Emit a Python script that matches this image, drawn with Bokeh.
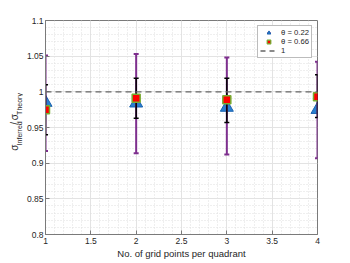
import math
from bokeh.plotting import figure
from bokeh.layouts import row
from bokeh.models import (Range1d, FixedTicker, Span, Legend, LegendItem, ColumnDataSource)
from bokeh.core.properties import value
from bokeh.embed import file_html
from bokeh.resources import INLINE

# ---------------- data ----------------
grid_points = [1, 2, 3, 4]
theta022_mean = [0.985, 0.984, 0.978, 0.975]
theta022_lower = [0.917, 0.914, 0.912, 0.907]
theta022_upper = [1.051, 1.053, 1.048, 1.042]
theta066_mean = [0.975, 0.991, 0.989, 0.993]
theta066_lower = [0.940, 0.963, 0.957, 0.964]
theta066_upper = [1.010, 1.019, 1.019, 1.024]
reference_level = 1.0

x_ticks = [1, 1.5, 2, 2.5, 3, 3.5, 4]
x_tick_labels = ["1", "1.5", "2", "2.5", "3", "3.5", "4"]
y_ticks = [0.8, 0.85, 0.9, 0.95, 1.0, 1.05, 1.1]
y_tick_labels = ["0.8", "0.85", "0.9", "0.95", "1", "1.05", "1.1"]
x_minor = [round(1 + 0.1 * i, 2) for i in range(31)]
y_minor = [round(0.8 + 0.01 * i, 2) for i in range(31)]

legend_labels = ["\u03b8 = 0.22", "\u03b8 = 0.66", "1"]
x_title = "No. of grid points per quadrant"
y_title_main = ["\u03c3", "/", "\u03c3"]
y_title_sub = ["Inferred", "Theory"]

FONT = "Liberation Sans"
TXT = "#262626"
AX = "#7a7a7a"
PURPLE = "#7E2F8E"
BLUE = "#2a80d0"
GREEN = "#77AC30"

# ---------------- y-axis title panel ----------------
YW, H = 23, 263
yfig = figure(width=YW, height=H, output_backend="svg", toolbar_location=None,
              x_range=Range1d(0, YW), y_range=Range1d(0, H),
              x_axis_type=None, y_axis_type=None, min_border=0)
yfig.grid.visible = False
yfig.outline_line_color = None
yfig.background_fill_color = "white"
yfig.border_fill_color = "white"
# pixel positions of the pieces (title panel pixels, y measured upward)
yfig.text(x=[13.5, 13.5, 13.5], y=[103, 135, 140.5], text=y_title_main, angle=math.pi / 2,
          text_font=value(FONT), text_font_size="10px", text_color=TXT,
          text_align="left", text_baseline="alphabetic")
yfig.text(x=[18.5, 18.5], y=[109.5, 147], text=y_title_sub, angle=math.pi / 2,
          text_font=value(FONT), text_font_size="7px", text_color=TXT,
          text_align="left", text_baseline="alphabetic")

# ---------------- main plot ----------------
p = figure(width=350 - YW, height=H, output_backend="svg", toolbar_location=None,
           x_range=Range1d(1, 4), y_range=Range1d(0.8, 1.1),
           min_border_left=45 - YW, min_border_right=33, min_border_top=20,
           min_border_bottom=29)
p.background_fill_color = "white"
p.border_fill_color = "white"
p.outline_line_color = AX
p.outline_line_width = 1

for ax, ticks, labels, minor in ((p.xaxis[0], x_ticks, x_tick_labels, x_minor),
                                 (p.yaxis[0], y_ticks, y_tick_labels, y_minor)):
    ax.ticker = FixedTicker(ticks=ticks, minor_ticks=minor)
    ax.major_label_overrides = {t: l for t, l in zip(ticks, labels)}
    ax.major_label_text_font = FONT
    ax.major_label_text_font_size = "8.5px"
    ax.major_label_text_color = TXT
    ax.major_tick_in = 4
    ax.major_tick_out = 0
    ax.minor_tick_in = 0
    ax.minor_tick_out = 0
    ax.major_tick_line_color = AX
    ax.axis_line_color = AX
p.xaxis.major_label_standoff = 3
p.yaxis.major_label_standoff = 2

p.xaxis.axis_label = x_title
p.xaxis.axis_label_text_font = FONT
p.xaxis.axis_label_text_font_size = "9.5px"
p.xaxis.axis_label_text_font_style = "normal"
p.xaxis.axis_label_text_color = TXT
p.xaxis.axis_label_standoff = 1

# grids
for g, ticks, minor in ((p.xgrid[0], x_ticks, x_minor), (p.ygrid[0], y_ticks, y_minor)):
    g.ticker = FixedTicker(ticks=ticks, minor_ticks=minor)
    g.grid_line_color = "#e3e3e3"
    g.grid_line_width = 1
    g.minor_grid_line_color = "#dedede"
    g.minor_grid_line_dash = "1 2"
    g.minor_grid_line_width = 1

# reference line
p.add_layout(Span(location=reference_level, dimension="width", line_color="#666666",
                  line_width=1.3, line_dash="6 4"))

src022 = ColumnDataSource(dict(x=grid_points, y=theta022_mean,
                               lo=theta022_lower, hi=theta022_upper))
src066 = ColumnDataSource(dict(x=grid_points, y=theta066_mean,
                               lo=theta066_lower, hi=theta066_upper))

# theta = 0.22 : triangles + purple error bars
p.scatter("x", "y", source=src022, marker="triangle", size=13,
          fill_color=BLUE, line_color="#1a62b0", line_width=1)
p.segment("x", "lo", "x", "hi", source=src022, line_color=PURPLE, line_width=2)
p.scatter("x", "lo", source=src022, marker="dash", size=5, line_color=PURPLE, line_width=2)
p.scatter("x", "hi", source=src022, marker="dash", size=5, line_color=PURPLE, line_width=2)

# theta = 0.66 : squares + black error bars
p.segment("x", "lo", "x", "hi", source=src066, line_color="black", line_width=1.5)
p.scatter("x", "lo", source=src066, marker="dash", size=5, line_color="black", line_width=1.5)
p.scatter("x", "hi", source=src066, marker="dash", size=5, line_color="black", line_width=1.5)
p.scatter("x", "y", source=src066, marker="square", size=8,
          fill_color="red", line_color=GREEN, line_width=1.5)

# legend-only renderers (placed outside the visible range)
dummy = ColumnDataSource(dict(x=[-10], y=[-10]))
l1a = p.scatter("x", "y", source=dummy, marker="dash", angle=math.pi / 2, size=9,
                line_color=PURPLE, line_width=1.5)
l1b = p.scatter("x", "y", source=dummy, marker="triangle", size=7,
                fill_color=BLUE, line_color="#1a62b0", line_width=1)
l2a = p.scatter("x", "y", source=dummy, marker="dash", angle=math.pi / 2, size=9,
                line_color="black", line_width=1.5)
l2b = p.scatter("x", "y", source=dummy, marker="square", size=5,
                fill_color="red", line_color=GREEN, line_width=1.2)
dummy_line = ColumnDataSource(dict(x=[-10, -9], y=[-10, -10]))
l3 = p.line("x", "y", source=dummy_line, line_color="#666666", line_width=1.3,
            line_dash="5 4")

legend = Legend(items=[LegendItem(label=legend_labels[0], renderers=[l1a, l1b]),
                       LegendItem(label=legend_labels[1], renderers=[l2a, l2b]),
                       LegendItem(label=legend_labels[2], renderers=[l3])],
                location="top_right")
legend.margin = 5
legend.padding = 2
legend.spacing = 0
legend.glyph_width = 17
legend.glyph_height = 9
legend.label_height = 9
legend.label_standoff = 4
legend.label_text_font = FONT
legend.label_text_font_size = "7.7px"
legend.label_text_color = TXT
legend.border_line_color = AX
legend.border_line_width = 1
legend.background_fill_color = "white"
legend.background_fill_alpha = 1
p.add_layout(legend)

layout = row(yfig, p, spacing=0)
open("out.html", "w").write(file_html(layout, INLINE))
